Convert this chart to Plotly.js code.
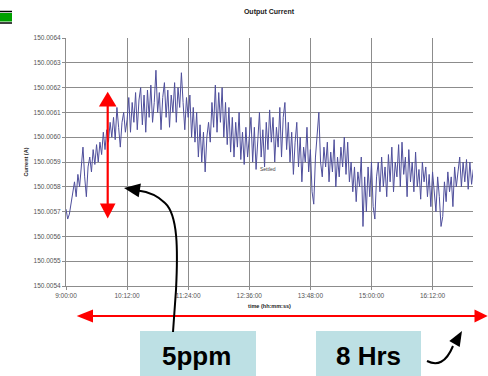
<!DOCTYPE html>
<html><head><meta charset="utf-8">
<script src="https://cdn.plot.ly/plotly-3.0.1.min.js"></script>
<style>html,body{margin:0;padding:0;background:#fff}#chart{width:488px;height:376px}</style>
</head><body><div id="chart"></div>
<script>
// ---- data ----
const chartTitle = 'Output Current';
const xTitle = 'time (hh:mm:ss)';
const yTitle = 'Current (A)';
const startClock = [9, 0];       // 9:00:00
const sampleStepMin = 2;         // one reading every 2 minutes
const current = [
 150.00571,150.00567,150.00569,150.00574,150.00578,150.00582,150.00576,150.00585,150.00580,150.00590,
 150.00596,150.00584,150.00576,150.00588,150.00592,150.00586,150.00595,150.00589,150.00597,150.00590,
 150.00598,150.00593,150.00602,150.00595,150.00603,150.00598,150.00606,150.00600,150.00608,150.00599,
 150.00612,150.00604,150.00596,150.00606,150.00610,150.00602,150.00607,
 150.00616,150.00602,150.00614,150.00606,150.00618,150.00603,150.00615,150.00620,150.00605,150.00617,
 150.00602,150.00619,150.00608,150.00621,150.00606,150.00614,150.00627,150.00610,150.00618,150.00603,
 150.00616,150.00622,150.00608,150.00619,150.00604,150.00617,150.00610,150.00622,150.00606,150.00620,
 150.00612,150.00626,150.00614,150.00603,150.00616,150.00608,
 150.00617,150.00600,150.00612,150.00598,150.00610,150.00592,150.00605,150.00590,150.00602,150.00586,
 150.00600,150.00606,150.00598,150.00614,150.00604,150.00621,150.00602,150.00618,150.00606,150.00620,
 150.00600,150.00614,150.00597,150.00612,150.00594,150.00608,150.00592,150.00606,150.00596,150.00610,
 150.00591,150.00602,150.00589,150.00604,150.00592,150.00600,
 150.00608,150.00590,150.00604,150.00587,150.00600,150.00610,150.00592,150.00603,150.00588,150.00606,
 150.00595,150.00611,150.00598,150.00608,150.00590,150.00604,150.00596,150.00612,150.00592,150.00608,
 150.00614,150.00595,150.00606,150.00590,150.00602,150.00585,150.00598,150.00606,150.00588,150.00600,
 150.00582,150.00596,150.00590,150.00604,150.00586,150.00595,
 150.00578,150.00573,150.00592,150.00602,150.00610,150.00590,150.00584,150.00596,150.00588,150.00598,
 150.00582,150.00594,150.00586,150.00599,150.00580,150.00592,150.00584,150.00596,150.00588,150.00600,
 150.00585,150.00598,150.00582,150.00590,150.00578,150.00588,150.00574,150.00586,150.00580,150.00592,
 150.00564,150.00584,150.00570,150.00588,150.00576,150.00590,
 150.00572,150.00567,150.00584,150.00590,150.00578,150.00592,150.00580,150.00588,150.00576,150.00593,
 150.00582,150.00596,150.00578,150.00590,150.00584,150.00597,150.00580,150.00598,150.00585,150.00592,
 150.00576,150.00595,150.00582,150.00590,150.00578,150.00594,150.00580,150.00587,150.00575,150.00590,
 150.00582,150.00588,150.00576,150.00585,150.00572,150.00586,
 150.00578,150.00570,150.00584,150.00576,150.00564,150.00568,150.00582,150.00574,150.00586,150.00578,
 150.00584,150.00572,150.00588,150.00580,150.00586,150.00592,150.00580,150.00590,150.00582,150.00591,
 150.00579,150.00590,150.00581,150.00587
];
const yTickVals = [150.0054,150.0055,150.0056,150.0057,150.0058,150.0059,150.0060,150.0061,150.0062,150.0063,150.0064];
const settledLabel = 'Settled';
const boxLabels = ['5ppm', '8 Hrs'];

// ---- build time stamps ----
function stamp(min){
  const h = Math.floor(min/60), m = min%60;
  return '2000-01-01 ' + String(h).padStart(2,'0') + ':' + String(m).padStart(2,'0') + ':00';
}
const t0 = startClock[0]*60 + startClock[1];
const times = current.map((_, i) => stamp(t0 + i*sampleStepMin));

// ---- geometry helpers (pixel -> paper) ----
const W = 488, H = 376;
const PL = 66, PR = 473, PT = 38, PB = 286;
const fx = px => (px - PL) / (PR - PL);
const fy = py => (PB - py) / (PB - PT);
const pt = (x, y) => fx(x).toFixed(5) + ',' + fy(y).toFixed(5);
function poly(points){ return 'M' + points.map(p => pt(p[0], p[1])).join(' L') + ' Z'; }

const red = '#ff0000';
const shapes = [
  // vertical red double arrow
  {type:'line', xref:'paper', yref:'paper', x0:fx(107.7), x1:fx(107.7), y0:fy(104), y1:fy(206), line:{color:red, width:2.2}},
  {type:'path', xref:'paper', yref:'paper', path:poly([[107.7,91.7],[116.5,106.5],[98.9,106.5]]), fillcolor:red, line:{width:0}},
  {type:'path', xref:'paper', yref:'paper', path:poly([[107.7,218.5],[115.5,203.5],[99.9,203.5]]), fillcolor:red, line:{width:0}},
  // horizontal red double arrow
  {type:'line', xref:'paper', yref:'paper', x0:fx(90), x1:fx(476), y0:fy(316), y1:fy(316), line:{color:red, width:2.2}},
  {type:'path', xref:'paper', yref:'paper', path:poly([[76.7,316],[93,309.5],[93,322.5]]), fillcolor:red, line:{width:0}},
  {type:'path', xref:'paper', yref:'paper', path:poly([[487.7,316],[474.5,309.5],[474.5,322.5]]), fillcolor:red, line:{width:0}},
  // label boxes
  {type:'rect', xref:'paper', yref:'paper', x0:fx(140), x1:fx(256), y0:fy(331), y1:fy(377), fillcolor:'#bde0e4', line:{width:0}},
  {type:'rect', xref:'paper', yref:'paper', x0:fx(316), x1:fx(421), y0:fy(331), y1:fy(377), fillcolor:'#bde0e4', line:{width:0}},
  // black curved arrow from 5ppm box
  {type:'path', xref:'paper', yref:'paper',
   path:'M' + pt(173,332) + ' L' + pt(176,290) + ' C' + pt(178,250) + ' ' + pt(178,215) + ' ' + pt(165,203) +
        ' C' + pt(158,196) + ' ' + pt(150,192) + ' ' + pt(138,190.5),
   line:{color:'#000', width:2}},
  {type:'path', xref:'paper', yref:'paper', path:poly([[124,188],[140.9,183.5],[138.7,197.3]]), fillcolor:'#000', line:{width:0}},
  // small black curved arrow near 8 Hrs
  {type:'path', xref:'paper', yref:'paper',
   path:'M' + pt(427,361) + ' C' + pt(437,366) + ' ' + pt(446,363) + ' ' + pt(453,346),
   line:{color:'#000', width:2}},
  {type:'path', xref:'paper', yref:'paper', path:poly([[462,331],[449.3,341],[459.7,347]]), fillcolor:'#000', line:{width:0}},
  // green marker top-left
  {type:'line', xref:'paper', yref:'paper', x0:fx(0), x1:fx(12), y0:fy(11.5), y1:fy(11.5), line:{color:'#000', width:1.5}},
  {type:'rect', xref:'paper', yref:'paper', x0:fx(0), x1:fx(12), y0:fy(13), y1:fy(21.5), fillcolor:'#00a000', line:{width:0}},
  {type:'line', xref:'paper', yref:'paper', x0:fx(0), x1:fx(12), y0:fy(23), y1:fy(23), line:{color:'#000', width:1.5}}
];

const annotations = [
  {xref:'paper', yref:'paper', x:fx(268), y:fy(169), text:settledLabel, showarrow:false,
   font:{family:'Liberation Sans, Arial, sans-serif', size:5, color:'#444'}},
  {xref:'paper', yref:'paper', x:fx(196), y:fy(356), text:'<b>' + boxLabels[0] + '</b>', showarrow:false,
   xanchor:'center', yanchor:'middle', font:{family:'Liberation Sans, Arial, sans-serif', size:26, color:'#000'}},
  {xref:'paper', yref:'paper', x:fx(368.5), y:fy(356), text:'<b>' + boxLabels[1] + '</b>', showarrow:false,
   xanchor:'center', yanchor:'middle', font:{family:'Liberation Sans, Arial, sans-serif', size:26, color:'#000'}}
];

const trace = {
  x: times, y: current, type:'scatter', mode:'lines',
  line:{color:'#4f4f9c', width:1}, hoverinfo:'skip'
};

const tickFont = {family:'Liberation Sans, Arial, sans-serif', size:6.5, color:'#555'};
const layout = {
  width:W, height:H,
  margin:{l:PL, r:W-PR, t:PT, b:H-PB, pad:0},
  paper_bgcolor:'#fff', plot_bgcolor:'#fff',
  showlegend:false,
  title:{text:'<b>' + chartTitle + '</b>', font:{family:'Liberation Sans, Arial, sans-serif', size:7, color:'#222'},
         xref:'container', yref:'container', x:269/W, y:1-12/H, xanchor:'center', yanchor:'middle'},
  xaxis:{
    type:'date', range:['2000-01-01 09:00:00','2000-01-01 16:59:40'],
    tick0:'2000-01-01 09:00:00', dtick:72*60*1000, tickformat:'%-H:%M:%S',
    showgrid:true, gridcolor:'#8c8c8c', gridwidth:1,
    showline:true, linecolor:'#8c8c8c', linewidth:1,
    ticks:'outside', ticklen:3, tickcolor:'#8c8c8c',
    tickfont:tickFont, zeroline:false,
    title:{text:'<b>' + xTitle + '</b>', font:{family:'Liberation Sans, Arial, sans-serif', size:5.5, color:'#222'}, standoff:6}
  },
  yaxis:{
    range:[150.0054, 150.0064], tickvals:yTickVals, ticktext:yTickVals.map(v => v.toFixed(4)),
    showgrid:true, gridcolor:'#8c8c8c', gridwidth:1,
    showline:true, linecolor:'#8c8c8c', linewidth:1,
    ticks:'outside', ticklen:3, tickcolor:'#8c8c8c',
    tickfont:tickFont, zeroline:false,
    title:{text:'<b>' + yTitle + '</b>', font:{family:'Liberation Sans, Arial, sans-serif', size:5.5, color:'#222'}, standoff:4}
  },
  shapes:shapes,
  annotations:annotations
};

Plotly.newPlot('chart', [trace], layout, {staticPlot:true, displayModeBar:false});
</script>
</body></html>
